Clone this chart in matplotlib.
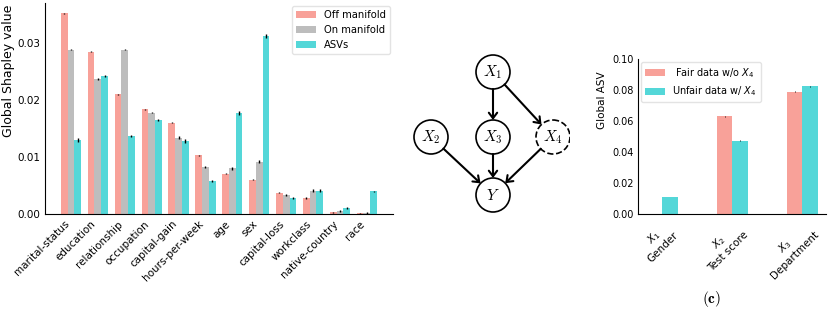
import numpy as np
import matplotlib
matplotlib.use("Agg")
import matplotlib.pyplot as plt
from matplotlib.patches import Circle, FancyArrowPatch

plt.rcParams['font.family'] = 'DejaVu Sans'
plt.rcParams['mathtext.fontset'] = 'dejavusans'

# --- data, left panel (global Shapley values per feature)
features = ['marital-status', 'education', 'relationship', 'occupation',
            'capital-gain', 'hours-per-week', 'age', 'sex', 'capital-loss',
            'workclass', 'native-country', 'race']
off_manifold = [0.0352, 0.0285, 0.0210, 0.0184, 0.0160, 0.0103,
                0.0071, 0.0060, 0.0037, 0.0028, 0.0003, 0.0001]
on_manifold = [0.0288, 0.0237, 0.0288, 0.0178, 0.0134, 0.0082,
               0.0080, 0.0092, 0.0033, 0.0041, 0.0005, 0.0002]
asvs = [0.0130, 0.0242, 0.0137, 0.0165, 0.0128, 0.0058,
        0.0177, 0.0312, 0.0028, 0.0041, 0.0011, 0.0040]
off_err = [0.0001, 0.0001, 0.0001, 0.0001, 0.0001, 0.0001,
           0.0001, 0.0001, 0.0001, 0.0001, 0.0001, 0.0001]
on_err = [0.0001, 0.0002, 0.0001, 0.0001, 0.0002, 0.0002,
          0.0002, 0.0002, 0.0002, 0.0002, 0.0002, 0.0002]
asv_err = [0.0003, 0.0001, 0.0002, 0.0002, 0.0004, 0.0002,
           0.0004, 0.0003, 0.0001, 0.0003, 0.0002, 0.0001]

# --- data, right panel (synthetic fairness example)
right_labels = ['$X_1$\nGender', '$X_2$\nTest score', '$X_3$\nDepartment']
fair_vals = [0.0001, 0.0632, 0.0790]
unfair_vals = [0.0110, 0.0472, 0.0824]
fair_err = [0.0001, 0.0003, 0.0003]
unfair_err = [0.0002, 0.0003, 0.0003]

c_off = '#F8A199'
c_on = '#BDBDBD'
c_asv = '#54D7D8'

fig = plt.figure(figsize=(8.3, 3.11), dpi=100)

# left panel
ax1 = fig.add_axes([0.0542, 0.312, 0.419, 0.678])
x = np.arange(len(features))
w = 0.25
ekw = dict(ecolor='black', elinewidth=1, capsize=0)
ax1.bar(x - w, off_manifold, w, yerr=off_err, color=c_off, label='Off manifold', error_kw=ekw)
ax1.bar(x, on_manifold, w, yerr=on_err, color=c_on, label='On manifold', error_kw=ekw)
ax1.bar(x + w, asvs, w, yerr=asv_err, color=c_asv, label='ASVs', error_kw=ekw)
ax1.set_xticks(x)
ax1.set_xticklabels(features, rotation=45, ha='right', fontsize=7.5)
ax1.set_ylim(0, 0.037)
ax1.set_yticks([0, 0.01, 0.02, 0.03])
ax1.set_yticklabels(['0.00', '0.01', '0.02', '0.03'], fontsize=7.5)
ax1.set_ylabel('Global Shapley value', fontsize=9)
ax1.yaxis.set_label_coords(-0.087, 0.68)
ax1.tick_params(length=0)
for s in ['top', 'right']:
    ax1.spines[s].set_visible(False)
ax1.legend(loc='upper right', fontsize=7.2, frameon=True, edgecolor='#dddddd',
           fancybox=True, borderaxespad=0.3)

# middle panel: causal graph
ax2 = fig.add_axes([390 / 830, 0, 180 / 830, 1])
ax2.set_xlim(390, 570)
ax2.set_ylim(311, 0)
ax2.axis('off')
r = 17
nodes = {'X1': (493, 72), 'X2': (431, 137), 'X3': (493, 137),
         'X4': (553, 137), 'Y': (493, 195)}
names = {'X1': '$X_1$', 'X2': '$X_2$', 'X3': '$X_3$', 'X4': '$X_4$', 'Y': '$Y$'}
for k, (cx, cy) in nodes.items():
    ls = '--' if k == 'X4' else '-'
    ax2.add_patch(Circle((cx, cy), r, fill=False, lw=1.2, ls=ls, edgecolor='black'))
    ax2.text(cx, cy, names[k], ha='center', va='center', fontsize=11, math_fontfamily='cm')
edges = [('X1', 'X3'), ('X1', 'X4'), ('X2', 'Y'), ('X3', 'Y'), ('X4', 'Y')]
for a, b in edges:
    (x0, y0), (x1, y1) = nodes[a], nodes[b]
    d = np.hypot(x1 - x0, y1 - y0)
    ux, uy = (x1 - x0) / d, (y1 - y0) / d
    ax2.add_patch(FancyArrowPatch((x0 + ux * r, y0 + uy * r), (x1 - ux * r, y1 - uy * r),
                                  arrowstyle='->,head_length=4,head_width=3',
                                  lw=1.5, color='black', shrinkA=0, shrinkB=0))

# right panel
ax3 = fig.add_axes([0.769, 0.312, 0.2265, 0.498])
xr = np.arange(len(right_labels))
wr = 0.22
ekw2 = dict(ecolor='black', elinewidth=0.6, capsize=0)
ax3.bar(xr - wr / 2, fair_vals, wr, yerr=fair_err, color=c_off,
        label=' Fair data w/o $X_4$', error_kw=ekw2)
ax3.bar(xr + wr / 2, unfair_vals, wr, yerr=unfair_err, color=c_asv,
        label='Unfair data w/ $X_4$', error_kw=ekw2)
ax3.set_xticks(xr)
ax3.set_xticklabels(right_labels, rotation=45, ha='right', rotation_mode='anchor',
                    fontsize=7.5, multialignment='center')
ax3.set_ylim(0, 0.1)
ax3.set_yticks(np.arange(0, 0.101, 0.02))
ax3.set_yticklabels(['0.00', '0.02', '0.04', '0.06', '0.08', '0.10'], fontsize=7)
ax3.set_ylabel('Global ASV', fontsize=7.5)
ax3.yaxis.set_label_coords(-0.165, 0.735)
ax3.tick_params(length=0)
for s in ['top', 'right']:
    ax3.spines[s].set_visible(False)
ax3.legend(loc='upper left', fontsize=7, frameon=True, edgecolor='#dddddd',
           borderaxespad=0.3)

fig.text(712 / 830, 1 - 299 / 311, r'$\mathbf{(c)}$', ha='center', va='center',
         fontsize=11, math_fontfamily='cm')

fig.savefig('out.png', dpi=100)
